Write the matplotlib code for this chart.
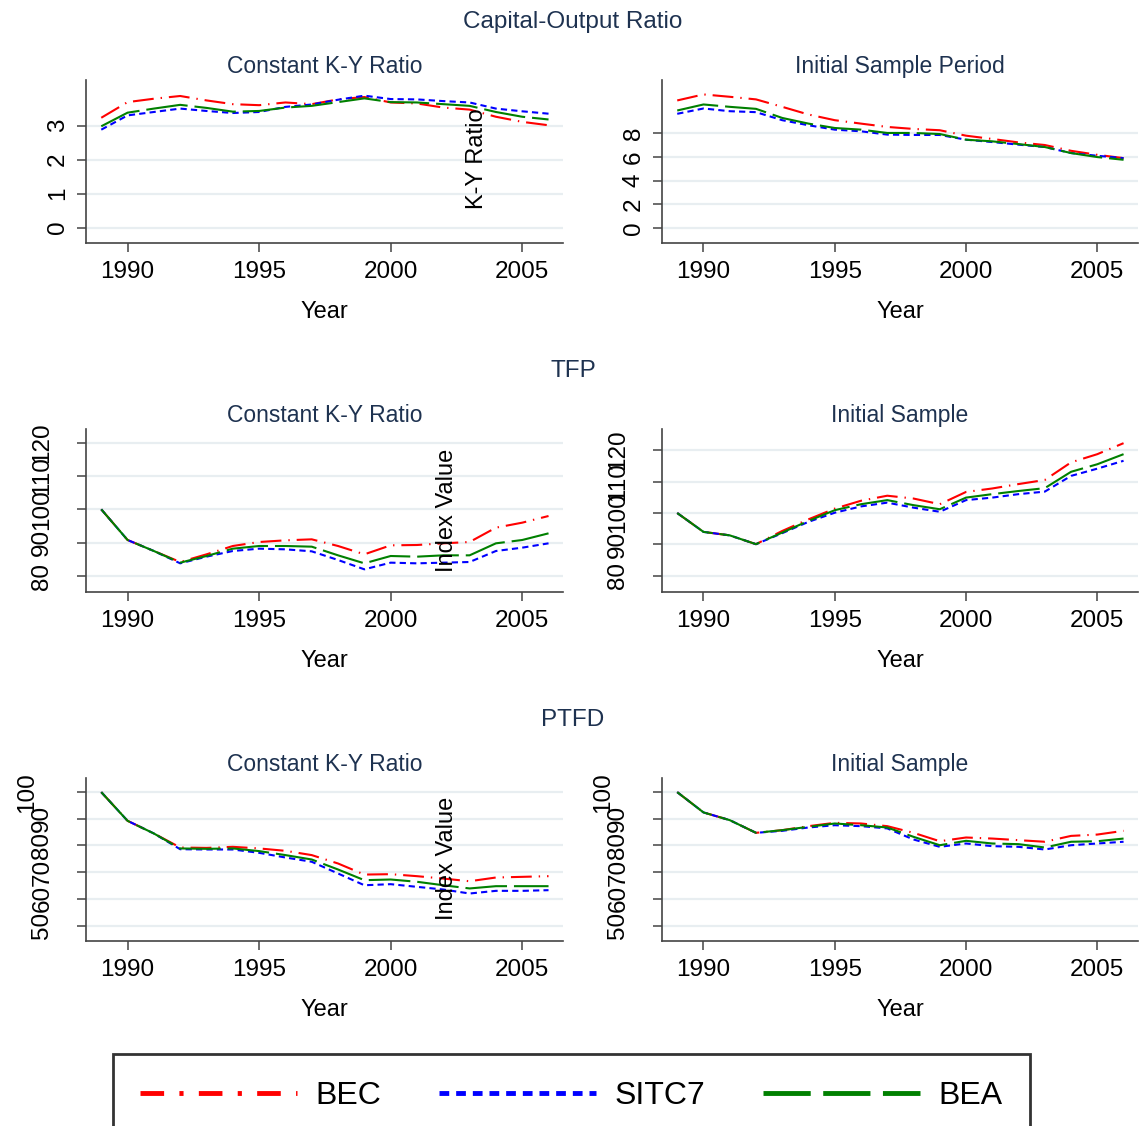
import numpy as np
import matplotlib
matplotlib.use("Agg")
import matplotlib.pyplot as plt

plt.rcParams['font.family'] = ['Liberation Sans', 'DejaVu Sans']
plt.rcParams['lines.scale_dashes'] = False

years = list(range(1989, 2007))

# capital-output ratio
ky_const_bec = [3.23, 3.69, 3.79, 3.87, 3.74, 3.63, 3.60, 3.68, 3.63, 3.77, 3.84, 3.68, 3.65, 3.53, 3.47, 3.26, 3.11, 3.01]
ky_const_sitc7 = [2.88, 3.30, 3.40, 3.50, 3.43, 3.37, 3.40, 3.55, 3.62, 3.76, 3.88, 3.78, 3.77, 3.72, 3.68, 3.50, 3.42, 3.35]
ky_const_bea = [2.98, 3.38, 3.50, 3.61, 3.52, 3.41, 3.43, 3.53, 3.58, 3.69, 3.80, 3.69, 3.68, 3.63, 3.58, 3.40, 3.26, 3.18]

ky_init_bec = [10.78, 11.29, 11.09, 10.87, 10.24, 9.59, 9.11, 8.82, 8.54, 8.37, 8.26, 7.80, 7.52, 7.23, 7.01, 6.52, 6.18, 5.90]
ky_init_sitc7 = [9.65, 10.10, 9.87, 9.79, 9.11, 8.68, 8.31, 8.17, 7.89, 7.86, 7.86, 7.46, 7.26, 7.04, 6.84, 6.33, 6.10, 5.90]
ky_init_bea = [9.93, 10.44, 10.24, 10.07, 9.30, 8.82, 8.45, 8.31, 8.03, 8.03, 7.94, 7.46, 7.32, 7.09, 6.84, 6.33, 5.99, 5.76]

# TFP index
tfp_const_bec = [100, 90.8, 87.5, 84.2, 86.5, 89.0, 90.2, 90.7, 91.0, 89.0, 86.5, 89.2, 89.3, 89.8, 90.2, 94.5, 96.0, 98.0]
tfp_const_sitc7 = [100, 90.8, 87.5, 83.8, 85.8, 87.5, 88.2, 88.0, 87.4, 84.8, 82.0, 84.0, 83.8, 84.0, 84.2, 87.5, 88.5, 89.8]
tfp_const_bea = [100, 90.8, 87.5, 84.0, 86.0, 88.2, 89.0, 89.0, 88.8, 86.2, 83.8, 86.0, 85.8, 86.2, 86.2, 89.8, 90.8, 92.8]

tfp_init_bec = [100, 94.0, 92.9, 90.1, 94.3, 98.0, 101.4, 103.9, 105.5, 104.6, 102.8, 106.7, 107.8, 109.2, 110.5, 116.1, 118.7, 122.2]
tfp_init_sitc7 = [100, 94.0, 92.9, 90.1, 93.6, 97.2, 100.1, 102.1, 103.3, 101.7, 100.4, 104.1, 104.9, 106.0, 106.8, 111.8, 114.1, 116.6]
tfp_init_bea = [100, 94.0, 92.9, 90.1, 93.8, 97.5, 100.9, 102.8, 104.1, 102.5, 101.2, 104.9, 106.0, 107.0, 107.9, 113.1, 115.5, 118.7]

# PTFD index
ptfd_const_bec = [100, 89.25, 84.5, 79.25, 79.1, 79.5, 78.9, 78.0, 76.4, 73.25, 69.1, 69.25, 68.5, 67.6, 66.6, 68.0, 68.25, 68.5]
ptfd_const_sitc7 = [100, 89.25, 84.5, 78.6, 78.5, 78.5, 77.25, 75.5, 73.9, 69.5, 65.1, 65.5, 64.5, 63.5, 62.0, 63.0, 63.0, 63.25]
ptfd_const_bea = [100, 89.25, 84.5, 78.9, 78.75, 78.9, 77.9, 76.4, 74.75, 71.0, 67.0, 67.25, 66.4, 65.1, 63.9, 64.75, 64.75, 64.75]

ptfd_init_bec = [100, 92.4, 89.5, 84.75, 85.75, 87.25, 88.5, 88.25, 87.25, 84.75, 81.6, 83.0, 82.6, 82.0, 81.4, 83.6, 84.1, 85.5]
ptfd_init_sitc7 = [100, 92.4, 89.5, 84.75, 85.5, 86.75, 87.6, 87.25, 86.4, 82.25, 79.5, 80.75, 79.75, 79.5, 78.5, 80.1, 80.75, 81.4]
ptfd_init_bea = [100, 92.4, 89.5, 84.75, 85.75, 87.0, 88.25, 87.6, 86.75, 83.25, 80.1, 81.75, 80.75, 80.5, 79.25, 81.4, 81.6, 82.6]

row_titles = ["Capital-Output Ratio", "TFP", "PTFD"]
left_titles = ["Constant K-Y Ratio", "Constant K-Y Ratio", "Constant K-Y Ratio"]
right_titles = ["Initial Sample Period", "Initial Sample", "Initial Sample"]
ytitles = ["K-Y Ratio", "Index Value", "Index Value"]
series_names = ["BEC", "SITC7", "BEA"]

panels = [
    [(ky_const_bec, ky_const_sitc7, ky_const_bea), (ky_init_bec, ky_init_sitc7, ky_init_bea)],
    [(tfp_const_bec, tfp_const_sitc7, tfp_const_bea), (tfp_init_bec, tfp_init_sitc7, tfp_init_bea)],
    [(ptfd_const_bec, ptfd_const_sitc7, ptfd_const_bea), (ptfd_init_bec, ptfd_init_sitc7, ptfd_init_bea)],
]
yticks = [
    [[0, 1, 2, 3], [0, 2, 4, 6, 8]],
    [[80, 90, 100, 110, 120], [80, 90, 100, 110, 120]],
    [[50, 60, 70, 80, 90, 100], [50, 60, 70, 80, 90, 100]],
]
ylims = [
    [(-0.45, 4.34), (-1.28, 12.51)],
    [(75.2, 124.1), (74.9, 126.7)],
    [(44.2, 105.3), (44.2, 105.3)],
]

colors = ["red", "blue", "green"]
dashes = [(15, 5, 1, 5), (4.5, 3), (30, 5)]
title_color = "#1e3250"
grid_color = "#e8eef1"
spine_color = "#444444"

W, H = 1141, 1126
fig = plt.figure(figsize=(W / 100, H / 100), dpi=100)
fig.patch.set_facecolor("white")

col_x = [(86, 563), (662, 1138)]
row_top = [80, 429, 778]
ax_h = 163

handles = []
for r in range(3):
    for c in range(2):
        x0, x1 = col_x[c]
        top = row_top[r]
        ax = fig.add_axes([x0 / W, 1 - (top + ax_h) / H, (x1 - x0) / W, ax_h / H])
        for k, vals in enumerate(panels[r][c]):
            ln, = ax.plot(years, vals, color=colors[k], lw=1.5, label=series_names[k])
            ln.set_dashes(dashes[k])
            if r == 0 and c == 0:
                handles.append(ln)
        ax.set_xlim(1988.42, 2006.55)
        ax.set_ylim(*ylims[r][c])
        ax.set_xticks([1990, 1995, 2000, 2005])
        ax.set_yticks(yticks[r][c])
        ax.yaxis.grid(True, color=grid_color, lw=1.6)
        ax.set_axisbelow(True)
        for s in ["top", "right"]:
            ax.spines[s].set_visible(False)
        for s in ["left", "bottom"]:
            ax.spines[s].set_color(spine_color)
            ax.spines[s].set_linewidth(1.2)
        ax.tick_params(axis="both", length=6.5, width=1.1, color=spine_color, labelsize=17.5)
        ax.tick_params(axis="x", pad=6.5)
        ypad = 6 if r == 0 else 17
        ax.tick_params(axis="y", pad=ypad)
        for lab in ax.get_yticklabels():
            lab.set_rotation(90)
            lab.set_va("center")
        if r == 2:
            # shift the crowded top label outward
            ax.yaxis.get_major_ticks()[-1].set_pad(ypad + 11)
        ax.set_xlabel("Year", fontsize=17, labelpad=13)
        ax.set_title(left_titles[r] if c == 0 else right_titles[r],
                     fontsize=16.5, color=title_color, pad=5)

    fig.text(573 / W, 1 - (22 + 349 * r) / H, row_titles[r], fontsize=17.5,
             color=title_color, ha="center", va="center")

fig.text(477 / W, 1 - 159 / H, ytitles[0], rotation=90, fontsize=17, ha="center", va="center")
fig.text(447 / W, 1 - 510 / H, ytitles[1], rotation=90, fontsize=17, ha="center", va="center")
fig.text(447 / W, 1 - 858 / H, ytitles[2], rotation=90, fontsize=17, ha="center", va="center")

leg = fig.legend(handles=handles, labels=series_names, loc="upper left",
                 bbox_to_anchor=(113 / W, 1 - 1054 / H), borderaxespad=0,
                 ncol=3, fontsize=23, frameon=True, fancybox=False,
                 handlelength=4.9, handletextpad=0.6, columnspacing=1.8,
                 borderpad=0.85)
leg.get_frame().set_edgecolor("black")
leg.get_frame().set_linewidth(2)
leg_dashes = [(17, 11, 3, 11), (7, 5), (34, 9)]
for ln, d in zip(leg.get_lines(), leg_dashes):
    ln.set_linewidth(3.5)
    ln.set_dashes(d)

fig.savefig("out.png", dpi=100, facecolor="white")
